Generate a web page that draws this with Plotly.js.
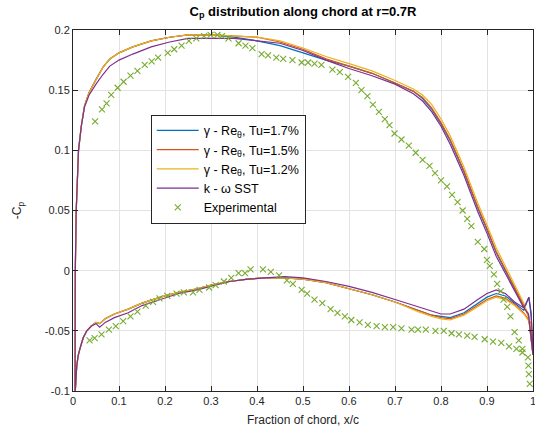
<!DOCTYPE html>
<html>
<head>
<meta charset="utf-8">
<script src="https://cdn.plot.ly/plotly-3.0.1.min.js"></script>
<style>html,body{margin:0;padding:0;background:#fff;}#chart{width:535px;height:443px;}</style>
</head>
<body>
<div id="chart"></div>
<script>
// ---- Data ----
const seriesNames = ["γ - Re<sub>θ</sub>, Tu=1.7%", "γ - Re<sub>θ</sub>, Tu=1.5%", "γ - Re<sub>θ</sub>, Tu=1.2%", "k - ω SST", "Experimental"];

const xUpper = [0.0005, 0.003, 0.005, 0.007, 0.012, 0.018, 0.025, 0.035, 0.05, 0.065, 0.08, 0.1, 0.13, 0.17, 0.21, 0.25, 0.3, 0.35, 0.4, 0.45, 0.5, 0.55, 0.6, 0.65, 0.7, 0.74, 0.76, 0.78, 0.8, 0.82, 0.85, 0.88, 0.9, 0.92, 0.94, 0.96, 0.98, 0.99, 1.0];
const cpUpperTu17 = [-1.0, -0.05, 0.0, 0.05, 0.10, 0.12, 0.137, 0.148, 0.159, 0.169, 0.176, 0.181, 0.186, 0.191, 0.194, 0.196, 0.196, 0.194, 0.191, 0.187, 0.181, 0.175, 0.170, 0.164, 0.156, 0.149, 0.143, 0.134, 0.122, 0.108, 0.082, 0.052, 0.034, 0.015, 0.000, -0.015, -0.030, -0.036, -0.07];
const cpUpperTu15 = [-1.0, -0.05, 0.0, 0.05, 0.10, 0.12, 0.137, 0.148, 0.159, 0.169, 0.176, 0.181, 0.186, 0.191, 0.194, 0.196, 0.196, 0.195, 0.194, 0.190, 0.184, 0.176, 0.170, 0.164, 0.156, 0.149, 0.144, 0.135, 0.123, 0.109, 0.083, 0.053, 0.035, 0.016, 0.001, -0.014, -0.029, -0.038, -0.07];
const cpUpperTu12 = [-1.0, -0.05, 0.0, 0.05, 0.10, 0.12, 0.137, 0.148, 0.159, 0.169, 0.176, 0.181, 0.186, 0.191, 0.194, 0.196, 0.196, 0.195, 0.194, 0.191, 0.185, 0.178, 0.172, 0.166, 0.158, 0.151, 0.146, 0.138, 0.126, 0.112, 0.086, 0.056, 0.038, 0.019, 0.003, -0.012, -0.027, -0.037, -0.07];
const cpUpperSST  = [-1.0, -0.05, 0.0, 0.05, 0.10, 0.12, 0.136, 0.146, 0.155, 0.163, 0.170, 0.175, 0.180, 0.186, 0.190, 0.193, 0.193, 0.193, 0.191, 0.189, 0.183, 0.175, 0.168, 0.162, 0.155, 0.147, 0.141, 0.132, 0.120, 0.105, 0.079, 0.049, 0.031, 0.012, -0.003, -0.017, -0.031, -0.036, -0.07];

const xLower = [0.0005, 0.003, 0.005, 0.008, 0.011, 0.015, 0.022, 0.03, 0.04, 0.05, 0.058, 0.07, 0.09, 0.12, 0.15, 0.19, 0.23, 0.27, 0.3, 0.34, 0.38, 0.42, 0.46, 0.5, 0.55, 0.6, 0.65, 0.7, 0.75, 0.78, 0.8, 0.82, 0.85, 0.88, 0.9, 0.92, 0.94, 0.96, 0.98, 0.991, 0.996, 1.0];
const cpLowerTu17 = [-1.0, -0.2, -0.1, -0.08, -0.071, -0.065, -0.056, -0.050, -0.046, -0.043, -0.044, -0.040, -0.036, -0.032, -0.027, -0.022, -0.018, -0.015, -0.012, -0.009, -0.007, -0.006, -0.006, -0.007, -0.010, -0.015, -0.020, -0.026, -0.033, -0.037, -0.038, -0.039, -0.035, -0.027, -0.022, -0.019, -0.021, -0.027, -0.033, -0.022, -0.038, -0.07];
const cpLowerTu15 = [-1.0, -0.2, -0.1, -0.08, -0.071, -0.065, -0.056, -0.050, -0.046, -0.043, -0.044, -0.040, -0.036, -0.032, -0.027, -0.022, -0.018, -0.015, -0.012, -0.009, -0.007, -0.006, -0.006, -0.007, -0.010, -0.015, -0.020, -0.026, -0.033, -0.037, -0.039, -0.040, -0.036, -0.029, -0.024, -0.021, -0.023, -0.028, -0.035, -0.041, -0.044, -0.07];
const cpLowerTu12 = [-1.0, -0.2, -0.1, -0.08, -0.071, -0.065, -0.056, -0.050, -0.046, -0.043, -0.044, -0.040, -0.036, -0.032, -0.027, -0.022, -0.018, -0.015, -0.012, -0.009, -0.007, -0.006, -0.006, -0.007, -0.010, -0.015, -0.020, -0.026, -0.034, -0.038, -0.040, -0.041, -0.037, -0.030, -0.025, -0.022, -0.024, -0.029, -0.036, -0.042, -0.045, -0.07];
const cpLowerSST  = [-1.0, -0.2, -0.1, -0.08, -0.071, -0.065, -0.056, -0.050, -0.046, -0.044, -0.047, -0.043, -0.039, -0.035, -0.029, -0.024, -0.019, -0.016, -0.013, -0.009, -0.007, -0.006, -0.005, -0.006, -0.009, -0.013, -0.018, -0.024, -0.030, -0.034, -0.036, -0.036, -0.032, -0.024, -0.019, -0.016, -0.019, -0.026, -0.031, -0.022, -0.035, -0.07];

const expUpperX = [0.048,0.063,0.073,0.083,0.097,0.110,0.125,0.140,0.156,0.171,0.185,0.206,0.220,0.236,0.252,0.268,0.285,0.299,0.314,0.324,0.338,0.360,0.375,0.390,0.410,0.424,0.442,0.457,0.477,0.497,0.511,0.525,0.540,0.564,0.580,0.598,0.615,0.627,0.640,0.652,0.665,0.678,0.688,0.699,0.714,0.730,0.745,0.760,0.775,0.787,0.800,0.813,0.824,0.836,0.847,0.857,0.866,0.880,0.894,0.900,0.906,0.915,0.922,0.930,0.936,0.944,0.951,0.960,0.969,0.977,0.990,0.991,0.993];
const expUpperCp = [0.124,0.134,0.139,0.146,0.152,0.157,0.162,0.166,0.171,0.174,0.177,0.181,0.184,0.187,0.191,0.193,0.195,0.196,0.196,0.195,0.193,0.189,0.187,0.185,0.180,0.179,0.177,0.176,0.175,0.173,0.173,0.172,0.171,0.167,0.165,0.161,0.156,0.150,0.145,0.138,0.132,0.126,0.121,0.114,0.109,0.104,0.098,0.092,0.087,0.081,0.075,0.070,0.063,0.057,0.050,0.043,0.037,0.024,0.018,0.009,0.004,-0.003,-0.011,-0.017,-0.024,-0.030,-0.038,-0.051,-0.058,-0.065,-0.079,-0.086,-0.094];
const expLowerX = [0.036,0.047,0.062,0.078,0.093,0.109,0.125,0.140,0.158,0.174,0.188,0.205,0.225,0.241,0.261,0.275,0.296,0.310,0.328,0.344,0.360,0.374,0.386,0.413,0.430,0.448,0.465,0.478,0.497,0.509,0.525,0.542,0.560,0.575,0.591,0.605,0.623,0.641,0.660,0.678,0.696,0.714,0.736,0.750,0.767,0.788,0.806,0.823,0.839,0.857,0.873,0.895,0.913,0.931,0.948,0.964,0.977,0.989];
const expLowerCp = [-0.058,-0.056,-0.053,-0.049,-0.046,-0.042,-0.038,-0.034,-0.029,-0.026,-0.023,-0.021,-0.019,-0.018,-0.018,-0.016,-0.014,-0.012,-0.009,-0.006,-0.002,-0.002,0.001,0.001,-0.001,-0.004,-0.008,-0.011,-0.016,-0.019,-0.024,-0.027,-0.032,-0.035,-0.038,-0.041,-0.043,-0.045,-0.046,-0.047,-0.047,-0.048,-0.049,-0.049,-0.049,-0.050,-0.050,-0.052,-0.053,-0.054,-0.055,-0.057,-0.059,-0.060,-0.063,-0.065,-0.068,-0.072];

const xTickVals = [0, 0.1, 0.2, 0.3, 0.4, 0.5, 0.6, 0.7, 0.8, 0.9, 1];
const xTickText = ["0", "0.1", "0.2", "0.3", "0.4", "0.5", "0.6", "0.7", "0.8", "0.9", "1"];
const yTickVals = [-0.1, -0.05, 0, 0.05, 0.1, 0.15, 0.2];
const yTickText = ["-0.1", "-0.05", "0", "0.05", "0.1", "0.15", "0.2"];

const colors = ["#0072BD", "#D95319", "#EDB120", "#7E2F8E", "#77AC30"];

// ---- Build traces ----
function loop(xu, yu, xl, yl) {
  return {
    x: xu.slice().reverse().concat(xl.slice(1)),
    y: yu.slice().reverse().concat(yl.slice(1))
  };
}
const cfd = [
  loop(xUpper, cpUpperTu17, xLower, cpLowerTu17),
  loop(xUpper, cpUpperTu15, xLower, cpLowerTu15),
  loop(xUpper, cpUpperTu12, xLower, cpLowerTu12),
  loop(xUpper, cpUpperSST, xLower, cpLowerSST)
];
const traces = cfd.map((d, i) => ({
  type: "scatter", mode: "lines", x: d.x, y: d.y, name: seriesNames[i],
  line: {color: colors[i], width: 1.2}
}));
traces.push({
  type: "scatter", mode: "markers",
  x: expUpperX.concat(expLowerX), y: expUpperCp.concat(expLowerCp),
  name: seriesNames[4],
  marker: {symbol: "x-thin-open", size: 6, color: colors[4], line: {color: colors[4], width: 1.1}}
});

const axisCommon = {
  showline: true, mirror: "ticks", linecolor: "#262626", linewidth: 1,
  ticks: "inside", ticklen: 5, tickcolor: "#262626",
  showgrid: true, gridcolor: "#e3e3e3", gridwidth: 1, zeroline: false,
  tickfont: {family: "Liberation Sans, Arial, sans-serif", size: 11, color: "#262626"},
  tickmode: "array", ticklabeloverflow: "allow"
};

const layout = {
  width: 535, height: 443,
  margin: {l: 73, r: 2, t: 30, b: 52},
  paper_bgcolor: "#fff", plot_bgcolor: "#fff",
  font: {family: "Liberation Sans, Arial, sans-serif", color: "#262626"},
  title: {
    text: "C<sub>p</sub> distribution along chord at r=0.7R",
    font: {size: 13, weight: "bold", color: "#000"},
    x: 0.5, xref: "paper", xanchor: "center", y: 0.975, yref: "container", yanchor: "middle"
  },
  xaxis: Object.assign({}, axisCommon, {
    range: [0, 1], tickvals: xTickVals, ticktext: xTickText,
    title: {text: "Fraction of chord, x/c", font: {size: 12, color: "#262626"}, standoff: 9}
  }),
  yaxis: Object.assign({}, axisCommon, {
    range: [-0.1, 0.2], tickvals: yTickVals, ticktext: yTickText,
    title: {text: "-C<sub>p</sub>", font: {size: 12, color: "#262626"}, standoff: 20}
  }),
  showlegend: true,
  legend: {
    x: 0.169, y: 0.765, xanchor: "left", yanchor: "top",
    bgcolor: "#fff", bordercolor: "#262626", borderwidth: 1,
    font: {size: 12.5, color: "#000"}, tracegroupgap: 0, itemwidth: 42
  }
};

Plotly.newPlot("chart", traces, layout, {displayModeBar: false, staticPlot: true});
</script>
</body>
</html>
